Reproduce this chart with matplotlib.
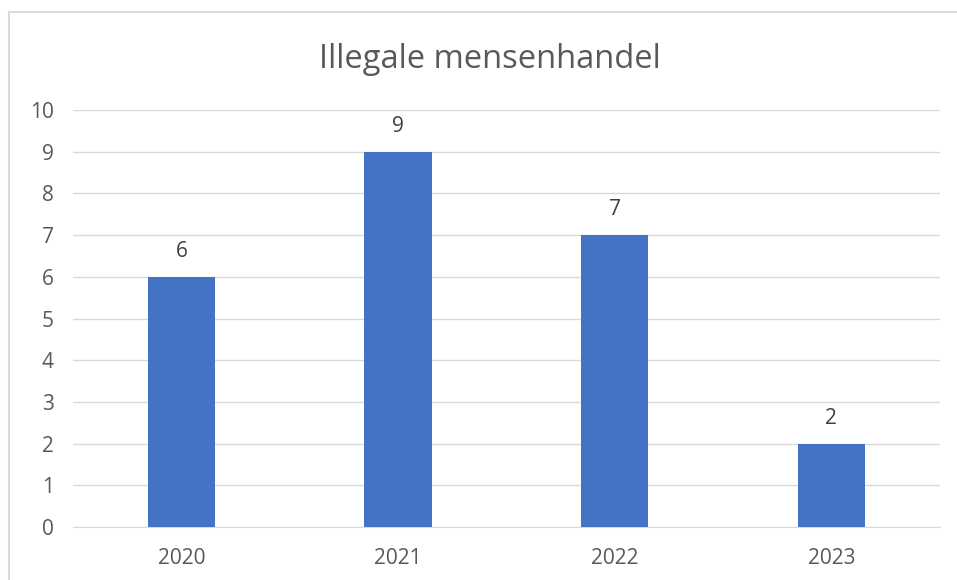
import matplotlib.pyplot as plt

# data
years = ["2020", "2021", "2022", "2023"]
counts = [6, 9, 7, 2]
y_ticks = list(range(0, 11))

plt.rcParams['font.family'] = ['Open Sans', 'DejaVu Sans']

fig = plt.figure(figsize=(9.57, 5.80), dpi=100)
ax = fig.add_axes([0.0763, 0.0914, 0.9057, 0.7189])

x = range(len(years))
bars = ax.bar(x, counts, width=0.31, color="#4472C4", zorder=3)

for bar, v in zip(bars, counts):
    ax.text(bar.get_x() + bar.get_width() / 2, v + 0.48, str(v),
            ha="center", va="baseline", fontsize=15, color="#404040")

ax.set_xlim(-0.5, len(years) - 0.5)
ax.set_ylim(0, 10)
ax.set_yticks(y_ticks)
ax.set_xticks(list(x))
ax.set_xticklabels(years)
ax.tick_params(axis="both", length=0, labelsize=15, labelcolor="#595959")
ax.tick_params(axis="y", pad=14)
ax.tick_params(axis="x", pad=15)
ax.yaxis.grid(True, color="#d9d9d9", linewidth=1, zorder=0)
for s in ["top", "right", "left"]:
    ax.spines[s].set_visible(False)
ax.spines["bottom"].set_color("#d9d9d9")

fig.text(0.512, 0.898, "Illegale mensenhandel", ha="center", va="center",
         fontsize=23.5, color="#595959")

# chart frame (only left and top edge visible in the crop)
fig.patches.append(plt.Rectangle((8.5 / 957, -0.05), 1.1, 1 - 11.5 / 580 + 0.05,
                                 transform=fig.transFigure, fill=False,
                                 edgecolor="#d9d9d9", linewidth=1.5))

fig.savefig("out.png", dpi=100)
